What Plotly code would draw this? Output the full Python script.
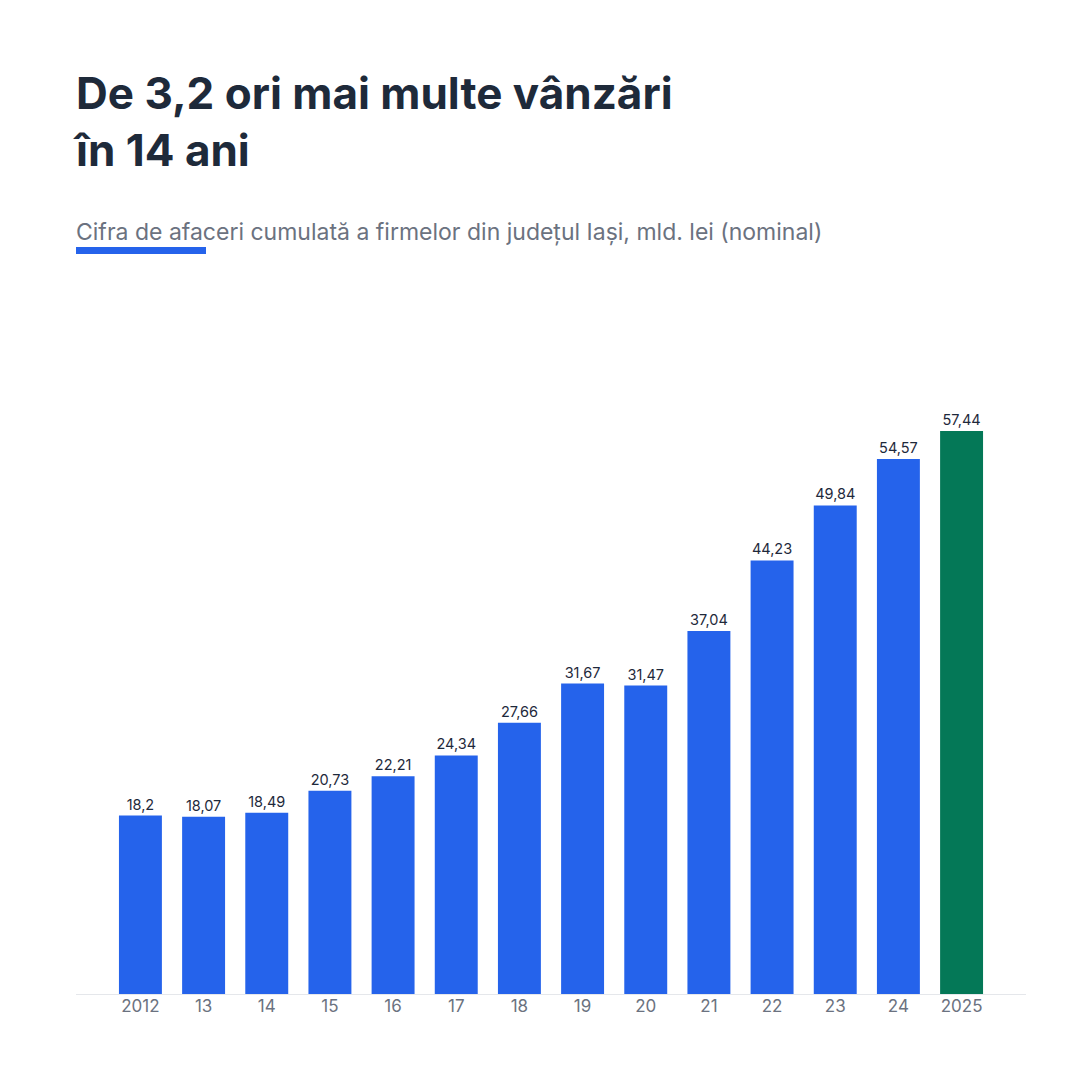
import plotly.graph_objects as go

years = ["2012", "13", "14", "15", "16", "17", "18", "19", "20", "21", "22", "23", "24", "2025"]
values = [18.2, 18.07, 18.49, 20.73, 22.21, 24.34, 27.66, 31.67, 31.47, 37.04, 44.23, 49.84, 54.57, 57.44]
labels = ["18,2", "18,07", "18,49", "20,73", "22,21", "24,34", "27,66", "31,67", "31,47",
          "37,04", "44,23", "49,84", "54,57", "57,44"]
title_l1 = "De 3,2 ori mai multe vânzări"
title_l2 = "în 14 ani"
subtitle = "Cifra de afaceri cumulată a firmelor din județul Iași, mld. lei (nominal)"

BLUE = "#2563EB"
GREEN = "#047857"
colors = [BLUE] * (len(values) - 1) + [GREEN]

FONT = "Inter"
x_idx = list(range(len(years)))
PH = 694.0

fig = go.Figure(go.Bar(
    x=x_idx, y=values, marker=dict(color=colors, line=dict(width=0)),
    text=labels, textposition="outside", cliponaxis=False,
    textfont=dict(family=FONT, size=14.5, color="#1e293b"),
    width=0.68, hoverinfo="skip",
))

fig.update_layout(
    width=1080, height=1080,
    paper_bgcolor="white", plot_bgcolor="white",
    margin=dict(l=68, r=62, t=292, b=94),
    showlegend=False,
    font=dict(family=FONT),
    xaxis=dict(
        tickmode="array", tickvals=x_idx, ticktext=years,
        range=[-1.02, 14.02], showgrid=False, zeroline=False,
        showline=True, linecolor="#e5e7eb", linewidth=1,
        ticks="", tickfont=dict(family=FONT, size=17, color="#6b7280"),
        ticklabelstandoff=-3,
        fixedrange=True,
    ),
    yaxis=dict(range=[0, 70.8], visible=False, fixedrange=True),
    annotations=[
        dict(text=f"<b>{title_l1}</b><br><b>{title_l2}</b>", xref="paper", yref="paper",
             x=0, y=(994-64)/PH, xanchor="left", yanchor="top", align="left", xshift=-5,
             showarrow=False, font=dict(family=FONT, size=44, color="#1e2a3a")),
        dict(text=subtitle, xref="paper", yref="paper", x=0, y=(994-231.5)/PH,
             xanchor="left", yanchor="middle", showarrow=False, xshift=-2,
             font=dict(family=FONT, size=23, color="#6b7280")),
    ],
    shapes=[
        dict(type="rect", xref="paper", yref="paper", x0=0, x1=130/950,
             y0=(994-254)/PH, y1=(994-247)/PH, fillcolor=BLUE, line=dict(width=0)),
    ],
)

fig.write_html("out.html")
